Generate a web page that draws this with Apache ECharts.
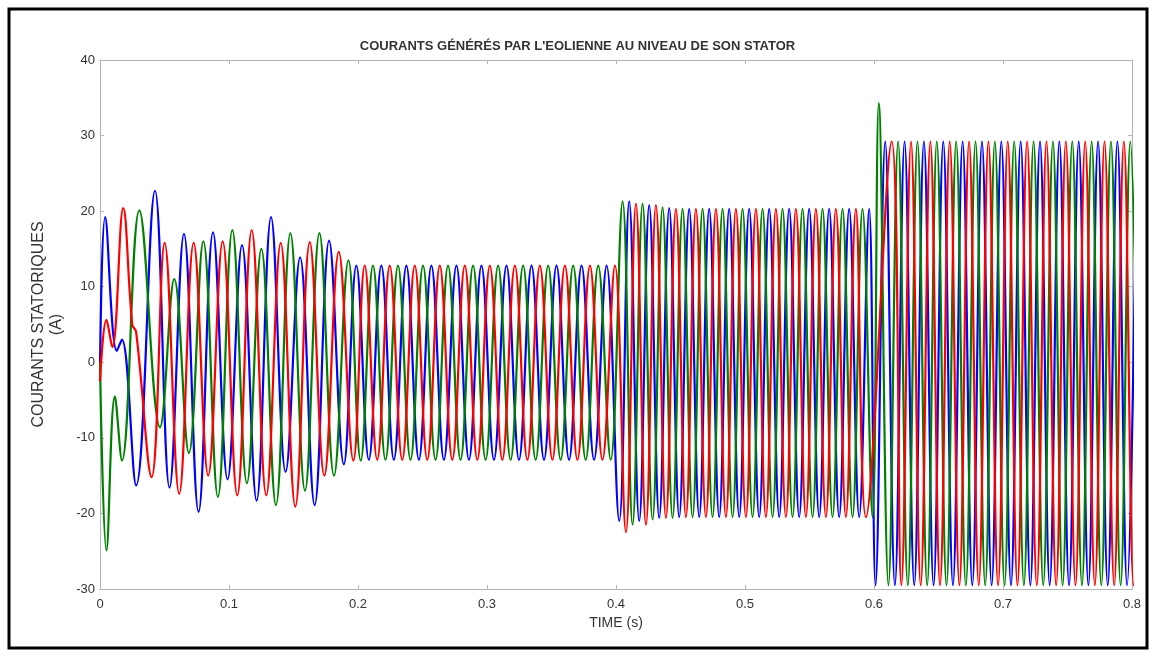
<!DOCTYPE html>
<html>
<head>
<meta charset="utf-8">
<script src="https://cdn.jsdelivr.net/npm/echarts@6/dist/echarts.min.js"></script>
<style>
html,body{margin:0;padding:0;background:#fff;}
#chart{width:1155px;height:656px;}
</style>
</head>
<body>
<div id="chart"></div>
<script>
// ---- Texts / ticks ----
const titleText = "COURANTS GÉNÉRÉS PAR L'EOLIENNE AU NIVEAU DE SON STATOR";
const xName = "TIME (s)";
const yName = "COURANTS STATORIQUES\n(A)";
const xTicks = [0, 0.1, 0.2, 0.3, 0.4, 0.5, 0.6, 0.7, 0.8];
const yTicks = [-30, -20, -10, 0, 10, 20, 30, 40];

// ---- Transient (0 - 0.2 s): extremum points [time, current] ----
const blueTransient = [[0,-1],[0.004,19.2],[0.013,1.5],[0.017,3],[0.028,-16.3],[0.0426,22.7],[0.0539,-16.6],[0.0651,17],[0.0764,-19.8],[0.0876,17.2],[0.0989,-15.5],[0.1101,15.5],[0.1214,-18.3],[0.1326,19.2],[0.1439,-14.5],[0.1551,13.9],[0.1664,-18.9],[0.1776,16.1],[0.189,-13.5]];
const redTransient = [[0,-2.5],[0.005,5.6],[0.0095,2],[0.018,20.4],[0.025,5],[0.028,4],[0.040,-15.2],[0.0501,15.8],[0.0614,-17.4],[0.0726,15.8],[0.0839,-15],[0.0951,16],[0.1064,-17.6],[0.1176,17.5],[0.1289,-17.6],[0.1401,15.8],[0.1514,-19.1],[0.1626,15.9],[0.1739,-15],[0.1851,14.6],[0.1964,-13]];
const greenTransient = [[0,0],[0.005,-24.9],[0.0115,-4.5],[0.017,-13],[0.0305,20.1],[0.0465,-8.6],[0.0576,11],[0.0689,-12],[0.0801,16],[0.0914,-17.8],[0.1026,17.5],[0.1139,-16],[0.1251,15],[0.1364,-18.9],[0.1476,17.1],[0.1589,-17],[0.1701,17.1],[0.1814,-15],[0.1926,13.5],[0.2021,-13]];

// ---- Steady regimes: first extremum time, half period (s), successive extremum values read ----
const blueSeg2 = {start:0.1987, half:0.0097, values:[12.8,-12.9,12.8,-12.9,12.8,-12.9,12.8,-12.9,12.8,-12.9,12.8,-12.9,12.8,-12.9,12.8,-12.9,12.8,-12.9,12.8,-12.9,12.8]};
const redSeg2 = {start:0.2052, half:0.0097, values:[12.8,-12.9,12.8,-12.9,12.8,-12.9,12.8,-12.9,12.8,-12.9,12.8,-12.9,12.8,-12.9,12.8,-12.9,12.8,-12.9,12.8,-12.9,12.8]};
const greenSeg2 = {start:0.2116, half:0.0097, values:[12.8,-12.9,12.8,-12.9,12.8,-12.9,12.8,-12.9,12.8,-12.9,12.8,-12.9,12.8,-12.9,12.8,-12.9,12.8,-12.9,12.8,-12.9]};

const blueSeg3 = {start:0.4025, half:0.00775, values:[-21,21.3,-21,20.8,-20.6,20.4,-20.5,20.3,-20.5,20.3,-20.5,20.3,-20.5,20.3,-20.5,20.3,-20.5,20.3,-20.5,20.3,-20.5,20.3,-20.5,20.3,-20.5,20.3]};
const redSeg3 = {start:0.4077, half:0.00775, values:[-22.5,21,-21.5,20.8,-20.6,20.3,-20.5,20.3,-20.5,20.3,-20.5,20.3,-20.5,20.3,-20.5,20.3,-20.5,20.3,-20.5,20.3,-20.5,20.3,-20.5,20.3,-20.5]};
const greenSeg3 = {start:0.4051, half:0.00775, values:[21.3,-21.5,21,-20.8,20.5,-20.6,20.3,-20.5,20.3,-20.5,20.3,-20.5,20.3,-20.5,20.3,-20.5,20.3,-20.5,20.3,-20.5,20.3,-20.5,20.3,-20.5,20.3,-20.5]};

const blueSeg4 = {start:0.6012, half:0.0075, values:[-29.5,29.2,-29.5,29.2,-29.5,29.2,-29.5,29.2,-29.5,29.2,-29.5,29.2,-29.5,29.2,-29.5,29.2,-29.5,29.2,-29.5,29.2,-29.5,29.2,-29.5,29.2,-29.5,29.2,-29.5,29.2]};
const greenSeg4 = {start:0.6037, half:0.0075, values:[34.3,-29.5,29.2,-29.5,29.2,-29.5,29.2,-29.5,29.2,-29.5,29.2,-29.5,29.2,-29.5,29.2,-29.5,29.2,-29.5,29.2,-29.5,29.2,-29.5,29.2,-29.5,29.2,-29.5,29.2,-29.5]};
const redSeg4 = {start:0.6137, half:0.0075, values:[29.2,-29.5,29.2,-29.5,29.2,-29.5,29.2,-29.5,29.2,-29.5,29.2,-29.5,29.2,-29.5,29.2,-29.5,29.2,-29.5,29.2,-29.5,29.2,-29.5,29.2,-29.5,29.2,-29.5,29.2]};

function segPoints(s){ return s.values.map((v,i)=>[+(s.start + i*s.half).toFixed(5), v]); }
const blueData = blueTransient.concat(segPoints(blueSeg2), segPoints(blueSeg3), segPoints(blueSeg4));
const greenData = greenTransient.concat(segPoints(greenSeg2), segPoints(greenSeg3), segPoints(greenSeg4));
const redData = redTransient.concat(segPoints(redSeg2), segPoints(redSeg3), segPoints(redSeg4));

const chart = echarts.init(document.getElementById('chart'), null, {renderer:'canvas'});
const axisGray = '#b4b4b4';
const FONT = 'Liberation Sans, Arial, sans-serif';
const tickLabelStyle = {color:'#333', fontSize:13, fontFamily:FONT};
function fmtX(v){ return v === 0 ? '0' : v.toFixed(1); }

function line(name, color, data){
  return {name, type:'line', data, color, showSymbol:false, symbol:'none', smooth:0.4,
    lineStyle:{color, width:2.2}, xAxisIndex:0, yAxisIndex:0, animation:false, clip:true};
}

chart.setOption({
  animation:false,
  backgroundColor:'#ffffff',
  title:{text:titleText, left:'center', top:35,
    textStyle:{fontSize:13, fontWeight:'bold', color:'#333', fontFamily:FONT}},
  grid:{left:100, right:23, top:60, bottom:67, containLabel:false},
  xAxis:[
    {type:'value', min:xTicks[0], max:xTicks[xTicks.length-1], interval:0.1, position:'bottom',
     name:xName, nameLocation:'middle', nameGap:27,
     nameTextStyle:{color:'#333', fontSize:14, fontFamily:FONT},
     axisLine:{show:true, onZero:false, lineStyle:{color:axisGray}},
     axisTick:{show:true, inside:true, length:4, lineStyle:{color:axisGray}},
     axisLabel:{...tickLabelStyle, margin:9, formatter:fmtX},
     splitLine:{show:false}},
    {type:'value', min:xTicks[0], max:xTicks[xTicks.length-1], interval:0.1, position:'top',
     axisLine:{show:true, onZero:false, lineStyle:{color:axisGray}},
     axisTick:{show:true, inside:true, length:4, lineStyle:{color:axisGray}},
     axisLabel:{show:false}, splitLine:{show:false}}
  ],
  yAxis:[
    {type:'value', min:yTicks[0], max:yTicks[yTicks.length-1], interval:10, position:'left',
     name:yName, nameLocation:'middle', nameGap:31, nameRotate:90,
     nameTextStyle:{color:'#333', fontSize:16, fontFamily:FONT, lineHeight:18, align:'center'},
     axisLine:{show:true, onZero:false, lineStyle:{color:axisGray}},
     axisTick:{show:true, inside:true, length:4, lineStyle:{color:axisGray}},
     axisLabel:{...tickLabelStyle, margin:5},
     splitLine:{show:false}},
    {type:'value', min:yTicks[0], max:yTicks[yTicks.length-1], interval:10, position:'right',
     axisLine:{show:true, onZero:false, lineStyle:{color:axisGray}},
     axisTick:{show:true, inside:true, length:4, lineStyle:{color:axisGray}},
     axisLabel:{show:false}, splitLine:{show:false}}
  ],
  graphic:[
    {type:'rect', shape:{x:9, y:9, width:1138, height:639}, style:{fill:null, stroke:'#000', lineWidth:3}, silent:true}
  ],
  series:[
    line('Ia', '#0000ff', blueData),
    line('Ib', '#008000', greenData),
    line('Ic', '#ff0000', redData)
  ]
});
</script>
</body>
</html>
